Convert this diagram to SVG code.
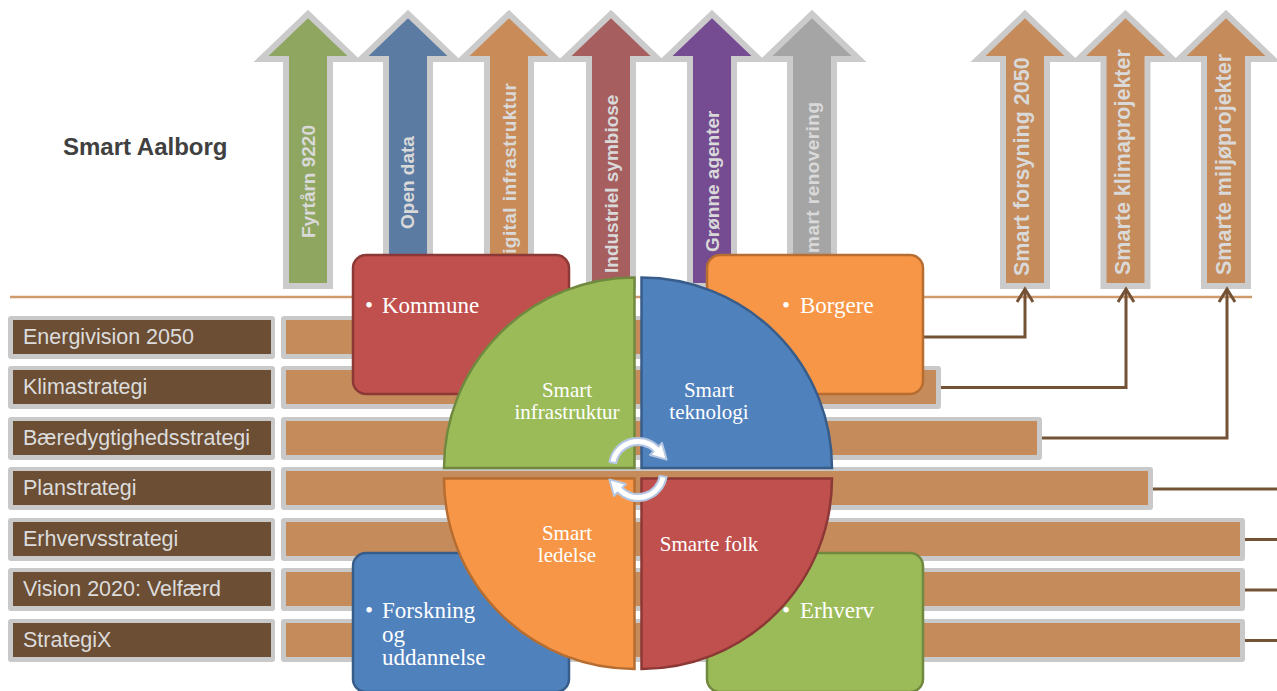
<svg xmlns="http://www.w3.org/2000/svg" xmlns:xlink="http://www.w3.org/1999/xlink" width="1277" height="691" viewBox="0 0 1277 691">
<style>
.arr{stroke:#cbcbcb;stroke-width:6;stroke-linejoin:miter}
.at{font-family:"Liberation Sans",Arial,sans-serif;font-weight:bold;font-size:19px;fill:#d9d9d9}
.atr{font-family:"Liberation Sans",Arial,sans-serif;font-weight:bold;font-size:21.5px;fill:#d9d9d9}
.sh{fill:#c9c9c9}
.lbl{fill:#6b4e34}
.bar{fill:#c68b5a}
.lt{font-family:"Liberation Sans",Arial,sans-serif;font-size:21.5px;fill:#dcdcdc}
.con{fill:none;stroke:#735236;stroke-width:3}
.bt{font-family:"Liberation Serif","Times New Roman",serif;font-size:23px;fill:#ffffff}
.qt{font-family:"Liberation Serif","Times New Roman",serif;font-size:21px;fill:#ffffff;text-anchor:middle}
.cyc{fill:#ffffff;stroke:#b4c6e2;stroke-width:2;stroke-linejoin:round}
</style>
<defs>
<path id="arrShape" d="M0,14 L47,59 L22,59 L22,286 L-22,286 L-22,59 L-47,59 Z"/>
<marker id="chev" markerUnits="userSpaceOnUse" markerWidth="18" markerHeight="20" viewBox="0 0 18 20" refX="15" refY="10" orient="auto">
<path d="M2,2 L15,10 L2,18" fill="none" stroke="#735236" stroke-width="3"/>
</marker>
<path id="cycArrow" d="M609.4,462 A29,29 0 0 1 658.5,446.5 L662,443 L666.6,459.6 L650,455 L653.6,451.4 A22,22 0 0 0 616.3,463.2 Z"/>
</defs>
<rect width="1277" height="691" fill="#ffffff"/>

<g id="title"><text x="63" y="155" font-family="Liberation Sans, Arial, sans-serif" font-weight="bold" font-size="24" fill="#404040">Smart Aalborg</text></g>

<g id="arrow-fyrtarn"><use xlink:href="#arrShape" x="308" class="arr" fill="#8fa661"/><text class="at" transform="translate(314.5,238) rotate(-90)">Fyrtårn 9220</text></g>
<g id="arrow-opendata"><use xlink:href="#arrShape" x="408" class="arr" fill="#5b7ba3"/><text class="at" transform="translate(414,229) rotate(-90)">Open data</text></g>
<g id="arrow-digital"><use xlink:href="#arrShape" x="509" class="arr" fill="#c98c59"/><text class="at" transform="translate(515.5,268) rotate(-90)" textLength="185" lengthAdjust="spacing">Digital infrastruktur</text></g>
<g id="arrow-industriel"><use xlink:href="#arrShape" x="611" class="arr" fill="#a65e5f"/><text class="at" transform="translate(618,273) rotate(-90)">Industriel symbiose</text></g>
<g id="arrow-gronne"><use xlink:href="#arrShape" x="712" class="arr" fill="#754c92"/><text class="at" transform="translate(718.5,252) rotate(-90)">Grønne agenter</text></g>
<g id="arrow-renovering"><use xlink:href="#arrShape" x="812" class="arr" fill="#a5a5a5"/><text class="at" transform="translate(818.5,266) rotate(-90)" textLength="164" lengthAdjust="spacing">Smart renovering</text></g>
<g id="arrow-forsyning"><use xlink:href="#arrShape" x="1025" class="arr" fill="#c68b5a"/><text class="atr" transform="translate(1029,276) rotate(-90)">Smart forsyning 2050</text></g>
<g id="arrow-klima"><use xlink:href="#arrShape" x="1125.5" class="arr" fill="#c68b5a"/><text class="atr" transform="translate(1130,275) rotate(-90)">Smarte klimaprojekter</text></g>
<g id="arrow-miljo"><use xlink:href="#arrShape" x="1226" class="arr" fill="#c68b5a"/><text class="atr" transform="translate(1231,275) rotate(-90)">Smarte miljøprojekter</text></g>

<g id="baseline"><line x1="10" y1="297" x2="1252" y2="297" stroke="#d09a6c" stroke-width="2.5"/></g>

<g id="row1"><rect class="sh" x="8" y="316" width="267" height="43" rx="3"/><rect class="lbl" x="13" y="320" width="258" height="34"/><text class="lt" x="23" y="344">Energivision 2050</text><rect class="sh" x="281" y="316" width="639" height="43" rx="3"/><rect class="bar" x="286" y="320" width="629" height="34"/></g>
<g id="row2"><rect class="sh" x="8" y="366" width="267" height="43" rx="3"/><rect class="lbl" x="13" y="370" width="258" height="34"/><text class="lt" x="23" y="394">Klimastrategi</text><rect class="sh" x="281" y="366" width="660" height="43" rx="3"/><rect class="bar" x="286" y="370" width="650" height="34"/></g>
<g id="row3"><rect class="sh" x="8" y="417" width="267" height="43" rx="3"/><rect class="lbl" x="13" y="421" width="258" height="34"/><text class="lt" x="23" y="445">Bæredygtighedsstrategi</text><rect class="sh" x="281" y="417" width="761" height="43" rx="3"/><rect class="bar" x="286" y="421" width="751" height="34"/></g>
<g id="row4"><rect class="sh" x="8" y="467" width="267" height="43" rx="3"/><rect class="lbl" x="13" y="471" width="258" height="34"/><text class="lt" x="23" y="495">Planstrategi</text><rect class="sh" x="281" y="467" width="872" height="43" rx="3"/><rect class="bar" x="286" y="471" width="862" height="34"/></g>
<g id="row5"><rect class="sh" x="8" y="518" width="267" height="43" rx="3"/><rect class="lbl" x="13" y="522" width="258" height="34"/><text class="lt" x="23" y="546">Erhvervsstrategi</text><rect class="sh" x="281" y="518" width="964" height="43" rx="3"/><rect class="bar" x="286" y="522" width="954" height="34"/></g>
<g id="row6"><rect class="sh" x="8" y="568" width="267" height="43" rx="3"/><rect class="lbl" x="13" y="572" width="258" height="34"/><text class="lt" x="23" y="596">Vision 2020: Velfærd</text><rect class="sh" x="281" y="568" width="964" height="43" rx="3"/><rect class="bar" x="286" y="572" width="954" height="34"/></g>
<g id="row7"><rect class="sh" x="8" y="619" width="267" height="43" rx="3"/><rect class="lbl" x="13" y="623" width="258" height="34"/><text class="lt" x="23" y="647">StrategiX</text><rect class="sh" x="281" y="619" width="964" height="43" rx="3"/><rect class="bar" x="286" y="623" width="954" height="34"/></g>

<g id="connectors">
<path class="con" d="M915,337 H1025 V289" marker-end="url(#chev)"/>
<path class="con" d="M941,387.5 H1126 V289" marker-end="url(#chev)"/>
<path class="con" d="M1042,438 H1227 V289" marker-end="url(#chev)"/>
<path class="con" d="M1153,489 H1277"/>
<path class="con" d="M1245,539.5 H1277"/>
<path class="con" d="M1245,590 H1277"/>
<path class="con" d="M1245,640.5 H1277"/>
</g>

<g id="box-kommune"><rect x="353" y="255" width="216" height="139" rx="13" fill="#c0504d" stroke="#8c3836" stroke-width="2.5"/><text class="bt" y="313"><tspan x="365">•</tspan><tspan x="382">Kommune</tspan></text></g>
<g id="box-borgere"><rect x="707" y="255" width="216" height="139" rx="13" fill="#f79646" stroke="#b66d31" stroke-width="2.5"/><text class="bt" y="313"><tspan x="782">•</tspan><tspan x="800">Borgere</tspan></text></g>
<g id="box-forskning"><rect x="353" y="553" width="216" height="139" rx="13" fill="#4f81bd" stroke="#385d8a" stroke-width="2.5"/><text class="bt" y="618"><tspan x="365">•</tspan><tspan x="382">Forskning</tspan></text><text class="bt" x="382" y="641.5">og</text><text class="bt" x="382" y="665">uddannelse</text></g>
<g id="box-erhverv"><rect x="707" y="553" width="216" height="139" rx="13" fill="#9bbb59" stroke="#71893f" stroke-width="2.5"/><text class="bt" y="618"><tspan x="782">•</tspan><tspan x="800">Erhverv</tspan></text></g>

<g id="q-infrastruktur"><path d="M444,468 A190.5,190.5 0 0 1 634.5,277.5 L634.5,468 Z" fill="#9bbb59" stroke="#71893f" stroke-width="2.5"/><text class="qt" x="567" y="397">Smart</text><text class="qt" x="567" y="419">infrastruktur</text></g>
<g id="q-teknologi"><path d="M641.5,277.5 A190.5,190.5 0 0 1 832,468 L641.5,468 Z" fill="#4f81bd" stroke="#385d8a" stroke-width="2.5"/><text class="qt" x="709" y="397">Smart</text><text class="qt" x="709" y="419">teknologi</text></g>
<g id="q-ledelse"><path d="M444,478.5 L634.5,478.5 L634.5,669 A190.5,190.5 0 0 1 444,478.5 Z" fill="#f79646" stroke="#b66d31" stroke-width="2.5"/><text class="qt" x="567" y="540">Smart</text><text class="qt" x="567" y="562">ledelse</text></g>
<g id="q-folk"><path d="M641.5,478.5 L832,478.5 A190.5,190.5 0 0 1 641.5,669 Z" fill="#c0504d" stroke="#8c3836" stroke-width="2.5"/><text class="qt" x="709" y="551">Smarte folk</text></g>

<g id="cycle">
<use xlink:href="#cycArrow" class="cyc"/>
<use xlink:href="#cycArrow" class="cyc" transform="rotate(180 638 469.5)"/>
</g>
</svg>
